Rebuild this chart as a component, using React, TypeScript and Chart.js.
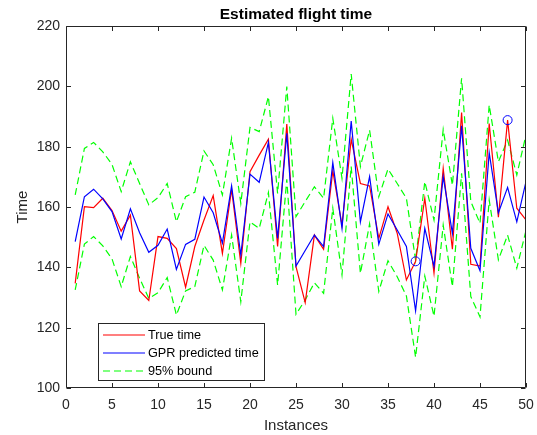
import React, { useEffect, useRef } from "react";
import { Chart, registerables } from "chart.js";

Chart.register(...registerables);

// ---------- data ----------
const instances: number[] = [
  1, 2, 3, 4, 5, 6, 7, 8, 9, 10, 11, 12, 13, 14, 15, 16, 17, 18, 19, 20, 21, 22, 23, 24, 25,
  26, 27, 28, 29, 30, 31, 32, 33, 34, 35, 36, 37, 38, 39, 40, 41, 42, 43, 44, 45, 46, 47, 48, 49, 50,
];

const trueTime: number[] = [
  134.7, 160.1, 159.8, 162.9, 158.8, 152.0, 157.3, 132.2, 129.0, 150.2,
  149.6, 146.2, 133.4, 146.9, 155.7, 163.8, 144.6, 165.8, 141.3, 171.7,
  177.2, 182.5, 146.9, 187.5, 140.2, 128.3, 150.7, 146.0, 172.0, 154.0,
  182.4, 167.8, 167.0, 149.6, 160.1, 151.3, 135.8, 142.0, 162.9, 138.1,
  172.8, 146.0, 191.3, 141.0, 140.4, 187.7, 156.6, 188.8, 159.6, 155.7,
];

const gprTime: number[] = [
  148.5, 163.4, 165.9, 162.7, 158.5, 149.4, 159.4, 151.5, 145.0, 147.3,
  152.7, 139.3, 147.6, 149.3, 163.3, 158.1, 148.0, 167.0, 144.1, 170.9,
  168.2, 181.4, 149.6, 184.4, 140.4, 145.6, 150.7, 146.9, 174.7, 152.9,
  188.5, 155.1, 170.1, 147.7, 157.7, 152.4, 146.9, 125.6, 152.9, 140.3,
  170.1, 151.3, 186.9, 146.3, 138.9, 178.0, 158.1, 166.5, 155.1, 168.4,
];

const upperBound: number[] = [
  164.0, 179.4, 181.4, 178.3, 174.1, 165.1, 175.0, 167.8, 160.7, 163.1,
  167.8, 155.1, 163.4, 164.9, 178.6, 174.0, 164.0, 182.8, 161.2, 186.4,
  185.0, 196.6, 164.5, 199.9, 156.8, 161.8, 166.7, 162.9, 189.4, 169.5,
  204.1, 173.4, 185.5, 163.4, 172.6, 167.8, 162.9, 142.4, 168.4, 155.7,
  185.7, 167.2, 202.7, 161.8, 154.6, 193.8, 175.0, 182.2, 170.6, 183.9,
];

const lowerBound: number[] = [
  132.5, 147.7, 150.2, 147.1, 142.8, 133.6, 143.6, 136.4, 129.7, 131.6,
  136.6, 124.2, 132.2, 133.6, 147.3, 142.4, 132.5, 150.7, 128.6, 155.1,
  152.9, 164.8, 134.1, 169.2, 124.4, 129.2, 134.9, 131.4, 159.6, 137.5,
  173.4, 138.0, 154.4, 132.0, 142.2, 136.9, 130.5, 110.2, 137.1, 123.8,
  154.0, 133.6, 171.2, 130.3, 123.6, 162.3, 142.5, 150.7, 139.7, 152.2,
];

// instances whose true time is circled
const circledInstances: number[] = [38, 48];

const xTicks: number[] = [0, 5, 10, 15, 20, 25, 30, 35, 40, 45, 50];
const yTicks: number[] = [100, 120, 140, 160, 180, 200, 220];

const legendItems = [
  { label: "True time", color: "#ff0000", dash: [] as number[] },
  { label: "GPR predicted time", color: "#0000ff", dash: [] as number[] },
  { label: "95% bound", color: "#00ff00", dash: [7, 4] },
];

const AXIS_COLOR = "#262626";
const FONT = "'Liberation Sans', Arial, Helvetica, sans-serif";

const toPts = (ys: number[]) => instances.map((x, i) => ({ x, y: ys[i] }));

const framePlugin = {
  id: "matlabFrame",
  afterDraw(chart: any) {
    const { ctx, chartArea: a, scales } = chart;
    const xs = scales.x;
    const ys = scales.y;
    const L = Math.round(a.left) + 0.5;
    const R = Math.round(a.right) - 0.5;
    const T = Math.round(a.top) + 0.5;
    const B = Math.round(a.bottom) - 0.5;
    ctx.save();
    ctx.strokeStyle = AXIS_COLOR;
    ctx.lineWidth = 1;
    ctx.setLineDash([]);
    ctx.beginPath();
    ctx.rect(L, T, R - L, B - T);
    ctx.stroke();
    const tl = 4.5;
    ctx.beginPath();
    xTicks.forEach((v) => {
      const px = Math.round(xs.getPixelForValue(v)) + 0.5;
      ctx.moveTo(px, B);
      ctx.lineTo(px, B - tl);
      ctx.moveTo(px, T);
      ctx.lineTo(px, T + tl);
    });
    yTicks.forEach((v) => {
      const py = Math.round(ys.getPixelForValue(v)) + 0.5;
      ctx.moveTo(L, py);
      ctx.lineTo(L + tl, py);
      ctx.moveTo(R, py);
      ctx.lineTo(R - tl, py);
    });
    ctx.stroke();

    // title
    ctx.fillStyle = "#000000";
    ctx.font = `bold 15.5px ${FONT}`;
    ctx.textAlign = "center";
    ctx.textBaseline = "middle";
    ctx.fillText("Estimated flight time", (a.left + a.right) / 2, 14.5);

    // legend
    const bx = Math.round(a.left + 32) + 0.5;
    const by = Math.round(a.bottom - 65) + 0.5;
    const bw = 166;
    const bh = 57;
    ctx.fillStyle = "#ffffff";
    ctx.fillRect(bx, by, bw, bh);
    ctx.strokeStyle = AXIS_COLOR;
    ctx.lineWidth = 1;
    ctx.strokeRect(bx, by, bw, bh);
    ctx.font = `12.7px ${FONT}`;
    ctx.textAlign = "left";
    ctx.textBaseline = "middle";
    legendItems.forEach((it, i) => {
      const cy = by + 11.5 + i * 18;
      ctx.strokeStyle = it.color;
      ctx.lineWidth = 1.2;
      ctx.setLineDash(it.dash);
      ctx.beginPath();
      ctx.moveTo(bx + 4.5, cy);
      ctx.lineTo(bx + 46.5, cy);
      ctx.stroke();
      ctx.setLineDash([]);
      ctx.fillStyle = "#000000";
      ctx.fillText(it.label, bx + 49.5, cy + 0.5);
    });
    ctx.restore();
  },
};

export default function App() {
  const ref = useRef<HTMLCanvasElement | null>(null);

  useEffect(() => {
    if (!ref.current) return;
    const chart = new Chart(ref.current, {
      type: "line",
      data: {
        datasets: [
          {
            label: "True time",
            data: toPts(trueTime),
            borderColor: "#ff0000",
            borderWidth: 1.2,
            pointRadius: 0,
            tension: 0,
            order: 2,
          },
          {
            label: "GPR predicted time",
            data: toPts(gprTime),
            borderColor: "#0000ff",
            borderWidth: 1.2,
            pointRadius: 0,
            tension: 0,
            order: 1,
          },
          {
            label: "95% bound",
            data: toPts(upperBound),
            borderColor: "#00ff00",
            borderWidth: 1.2,
            borderDash: [7, 4],
            pointRadius: 0,
            tension: 0,
            order: 3,
          },
          {
            label: "95% bound (lower)",
            data: toPts(lowerBound),
            borderColor: "#00ff00",
            borderWidth: 1.2,
            borderDash: [7, 4],
            pointRadius: 0,
            tension: 0,
            order: 3,
          },
          {
            label: "circled",
            data: circledInstances.map((x) => ({ x, y: trueTime[x - 1] })),
            showLine: false,
            pointRadius: 4.5,
            pointStyle: "circle",
            pointBorderColor: "#0000ff",
            pointBackgroundColor: "rgba(0,0,0,0)",
            pointBorderWidth: 1,
            borderColor: "#0000ff",
            order: 0,
          },
        ],
      },
      options: {
        responsive: false,
        animation: false,
        events: [],
        layout: { padding: { top: 26, left: 0, right: 11, bottom: 0 } },
        plugins: {
          legend: { display: false },
          title: { display: false },
          tooltip: { enabled: false },
        },
        scales: {
          x: {
            type: "linear",
            min: 0,
            max: 50,
            afterFit: (s: any) => {
              s.height = 47;
              s.paddingLeft = 0;
              s.paddingRight = 0;
            },
            afterBuildTicks: (s: any) => {
              s.ticks = xTicks.map((v) => ({ value: v }));
            },
            grid: { display: false, drawTicks: false },
            border: { display: false },
            ticks: {
              color: AXIS_COLOR,
              font: { family: FONT, size: 14 },
              padding: 9,
              maxRotation: 0,
              autoSkip: false,
            },
            title: {
              display: true,
              text: "Instances",
              color: AXIS_COLOR,
              font: { family: FONT, size: 15 },
              padding: { top: 0, bottom: 0 },
            },
          },
          y: {
            type: "linear",
            min: 100,
            max: 220,
            afterFit: (s: any) => {
              s.width = 66;
              s.paddingTop = 0;
              s.paddingBottom = 0;
            },
            afterBuildTicks: (s: any) => {
              s.ticks = yTicks.map((v) => ({ value: v }));
            },
            grid: { display: false, drawTicks: false },
            border: { display: false },
            ticks: {
              color: AXIS_COLOR,
              font: { family: FONT, size: 14 },
              padding: 6,
              autoSkip: false,
            },
            title: {
              display: true,
              text: "Time",
              color: AXIS_COLOR,
              font: { family: FONT, size: 15 },
              padding: { top: 14, bottom: 0 },
            },
          },
        },
      },
      plugins: [framePlugin],
    });
    return () => chart.destroy();
  }, []);

  return (
    <div style={{ position: "fixed", left: 0, top: 0, width: 537, height: 435, background: "#ffffff" }}>
      <canvas ref={ref} width={537} height={435} style={{ display: "block" }} />
    </div>
  );
}
